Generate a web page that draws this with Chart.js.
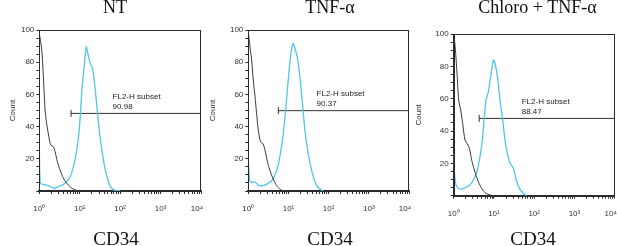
<!DOCTYPE html>
<html><head><meta charset="utf-8">
<script src="https://cdn.jsdelivr.net/npm/chart.js@4"></script>
<style>
html,body{margin:0;padding:0;background:#fff;width:617px;height:246px;overflow:hidden;}
#wrap{position:relative;width:617px;height:246px;}
canvas{position:absolute;top:0;}
.ttl,.xl{position:absolute;width:200px;text-align:center;font-family:'Liberation Serif','Times New Roman',serif;color:#111;line-height:1;white-space:nowrap;}
.ttl{font-size:18px;top:-2px;}
.xl{font-size:19px;top:229px;}
</style></head><body>
<div id="wrap"></div>
<script>
// ---- data ----
const panelTitles = ['NT', 'TNF-\u03B1', 'Chloro + TNF-\u03B1'];
const xAxisLabel = 'CD34';
const yAxisLabel = 'Count';
const xTickLabels = ['10\u2070', '10\u00B9', '10\u00B2', '10\u00B3', '10\u2074'];
const gateName = 'FL2-H subset';
const gateStart = [6.1, 5.6, 4.3];
const gateLevel = [48.2, 49.9, 47.8];
const gatePct = ['90.98', '90.37', '88.47'];

// NT
const ntNegX = [1, 1.15, 1.26, 1.39, 1.52, 1.78, 1.92, 2.23, 2.46, 2.8, 3.27, 3.95, 4.79, 6.0, 7.7, 10.3];
const ntNegY = [98, 87.6, 71, 50.3, 42, 31.7, 28.6, 27.5, 24.4, 18.2, 13, 7.9, 4.8, 2.3, 0.6, 0];
const ntPosX = [1, 1.06, 1.26, 1.68, 2.32, 2.97, 3.95, 4.79, 5.79, 7.0, 8.16, 9.33, 10.3, 11.3, 12.9, 14.5, 15.9, 18.2, 20.8, 23.3, 26.6, 31.0, 35.4, 41.3, 47.2, 57.1, 76, 101];
const ntPosY = [29.6, 4.8, 4.1, 3.3, 1.7, 2.7, 4.1, 5.8, 8.9, 15.1, 23.4, 33.7, 46.2, 62.7, 77.2, 89.6, 85.5, 79.3, 76.2, 66.9, 52.4, 35.8, 25.5, 15.1, 8.9, 2.7, 0.2, 0];

// TNF-alpha
const tnfNegX = [1, 1.10, 1.21, 1.33, 1.47, 1.61, 1.77, 2.02, 2.36, 2.7, 3.14, 3.8, 4.6, 5.57, 7.0, 8.9];
const tnfNegY = [99, 89.6, 81.4, 68.9, 58.6, 48.2, 37.9, 30.6, 29.2, 23.4, 16.1, 9.9, 5.2, 2.1, 0.2, 0];
const tnfPosX = [1, 1.08, 1.21, 1.41, 1.61, 1.84, 2.36, 3.14, 3.8, 4.6, 5.57, 6.5, 7.43, 8.5, 9.86, 11.5, 13.15, 14.45, 16.5, 19.2, 21.9, 25.6, 31, 37.6, 45.5, 57, 73];
const tnfPosY = [19.3, 6.8, 5.2, 5.8, 4.8, 3.3, 3.3, 4.8, 6.2, 9.9, 16.1, 25.5, 35.8, 50.3, 68.9, 85.5, 91.7, 88.6, 83.4, 71, 56.5, 37.9, 23.4, 13, 5.8, 1.7, 0];

// Chloro + TNF-alpha
const chlNegX = [1, 1.04, 1.12, 1.21, 1.33, 1.49, 1.67, 1.91, 2.19, 2.45, 2.8, 3.26, 3.95, 4.78, 6.0, 8.0, 9.7];
const chlNegY = [97.5, 96.7, 88, 75.7, 59.2, 53, 44.7, 34.4, 32, 29.3, 22, 15.9, 9.7, 5.2, 1.9, 0.4, 0];
const chlPosX = [1, 1.06, 1.14, 1.31, 1.58, 1.91, 2.31, 2.8, 3.39, 3.95, 4.5, 5.15, 5.78, 6.36, 7.27, 8.3, 9.67, 10.6, 12.2, 14.1, 16.5, 18.8, 21.5, 25.1, 27.6, 31.4, 36.6, 44.4, 53.9, 65];
const chlPosY = [26.2, 11.8, 6.6, 4.5, 4.1, 4.9, 6, 8, 11.8, 16.9, 24.1, 34.4, 48.9, 59.2, 64.3, 73.6, 83.9, 81.9, 73.6, 59.2, 46.8, 34.4, 26.2, 20, 18.6, 15.9, 8.7, 3.9, 1.4, 0];

const negX = [ntNegX, tnfNegX, chlNegX], negY = [ntNegY, tnfNegY, chlNegY];
const posX = [ntPosX, tnfPosX, chlPosX], posY = [ntPosY, tnfPosY, chlPosY];

// ---- layout (positions only) ----
const layouts = [
  {left: 0,   width: 215, plotLeft: 39.3,  plotRight: 201,   plotTop: 30, plotBottom: 191,   countPad: 7.5, labelAt: 65, titleX: 115,   xlabX: 116},
  {left: 205, width: 215, plotLeft: 248.3, plotRight: 409,   plotTop: 30, plotBottom: 191,   countPad: 3,   labelAt: 50, titleX: 330,   xlabX: 330},
  {left: 411, width: 206, plotLeft: 453.7, plotRight: 614.7, plotTop: 34, plotBottom: 195.7, countPad: 3,   labelAt: 49, titleX: 537.5, xlabX: 533}
];
const H = 246;
const sans = '"Liberation Sans", Arial, sans-serif';
const ink = '#2a2a2a';

const framePlugin = {
  id: 'frame',
  afterDatasetsDraw(chart) {
    const {ctx, chartArea: a} = chart;
    ctx.save();
    ctx.strokeStyle = ink; ctx.lineWidth = 1;
    ctx.strokeRect(Math.round(a.left) + 0.5, Math.round(a.top) + 0.5, Math.round(a.right - a.left) - 1, Math.round(a.bottom - a.top));
    ctx.restore();
  }
};
const gateTextPlugin = {
  id: 'gateText',
  afterDatasetsDraw(chart, args, opts) {
    const {ctx} = chart;
    const x = chart.scales.x.getPixelForValue(opts.at);
    const y = chart.scales.y.getPixelForValue(opts.level);
    ctx.save();
    ctx.font = '8px ' + sans; ctx.fillStyle = '#222';
    ctx.textAlign = 'left'; ctx.textBaseline = 'middle';
    ctx.fillText(opts.name, x, y - 17);
    ctx.fillText(opts.pct, x, y - 6.5);
    ctx.restore();
  }
};

const wrap = document.getElementById('wrap');
const xTickValues = [];
for (let e = 0; e < 4; e++) for (let m = 1; m < 10; m++) xTickValues.push(m * Math.pow(10, e));
xTickValues.push(1e4);

layouts.forEach((L, i) => {
  const cv = document.createElement('canvas');
  cv.width = L.width; cv.height = H;
  cv.style.left = L.left + 'px';
  cv.style.width = L.width + 'px'; cv.style.height = H + 'px';
  wrap.appendChild(cv);

  const t = document.createElement('div');
  t.className = 'ttl'; t.textContent = panelTitles[i];
  t.style.left = (L.titleX - 100) + 'px';
  wrap.appendChild(t);
  const xl = document.createElement('div');
  xl.className = 'xl'; xl.textContent = xAxisLabel;
  xl.style.left = (L.xlabX - 100) + 'px';
  wrap.appendChild(xl);

  const yW = L.plotLeft - L.left;
  const xH = H - L.plotBottom;
  new Chart(cv, {
    type: 'line',
    data: {
      datasets: [
        {data: negX[i].map((x, k) => ({x, y: negY[i][k]})), borderColor: '#3a3a3a', borderWidth: 1, pointRadius: 0, tension: 0.25},
        {data: posX[i].map((x, k) => ({x, y: posY[i][k]})), borderColor: '#4cc8e8', borderWidth: 1.3, pointRadius: 0, tension: 0.25},
        {data: [{x: gateStart[i], y: gateLevel[i]}, {x: 1e4, y: gateLevel[i]}], borderColor: '#333', borderWidth: 1,
         pointStyle: 'line', pointRotation: 90, pointRadius: [3.5, 0], pointBorderColor: '#333', pointBorderWidth: 1, tension: 0}
      ]
    },
    options: {
      responsive: false, animation: false, devicePixelRatio: 1,
      layout: {autoPadding: false, padding: {top: L.plotTop, left: 0, bottom: 0, right: L.left + L.width - L.plotRight}},
      plugins: {
        legend: {display: false}, tooltip: {enabled: false},
        gateText: {at: L.labelAt, level: gateLevel[i], name: gateName, pct: gatePct[i]}
      },
      scales: {
        x: {
          type: 'logarithmic', min: 1, max: 1e4,
          afterBuildTicks: s => { s.ticks = xTickValues.map(v => ({value: v})); },
          afterFit: s => { s.height = xH; s.paddingLeft = 0; s.paddingRight = 0; },
          grid: {drawOnChartArea: false, drawTicks: true, tickLength: 3, color: ink},
          border: {display: true, color: ink, width: 2},
          ticks: {
            autoSkip: false, maxRotation: 0, minRotation: 0, padding: 10, color: '#333',
            font: {family: sans, size: 8},
            callback: v => {
              const e = Math.round(Math.log10(v));
              if (Math.abs(Math.pow(10, e) - v) > 1e-9) return '';
              return e === xTickLabels.length - 1 ? xTickLabels[e] + '\u2003' : xTickLabels[e];
            }
          }
        },
        y: {
          min: 0, max: 100,
          afterFit: s => { s.width = yW; s.paddingTop = 0; s.paddingBottom = 0; },
          grid: {drawOnChartArea: false, drawTicks: true, tickLength: 3, color: ink},
          border: {display: true, color: ink, width: 1},
          title: {display: true, text: yAxisLabel, color: '#333', font: {family: sans, size: 8}, padding: {top: L.countPad, bottom: 0}},
          ticks: {
            stepSize: 5, autoSkip: false, padding: 2, color: '#333',
            font: {family: sans, size: 8},
            callback: v => (v > 0 && v % 20 === 0) ? String(v) : ''
          }
        }
      }
    },
    plugins: [framePlugin, gateTextPlugin]
  });
});
</script>
</body></html>
